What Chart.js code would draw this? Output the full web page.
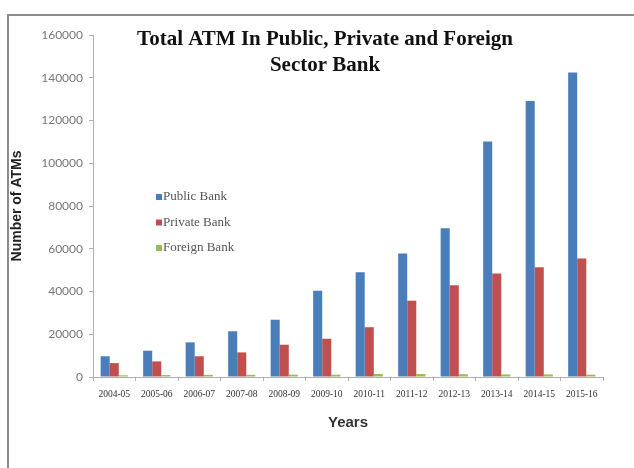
<!DOCTYPE html>
<html>
<head>
<meta charset="utf-8">
<script src="https://cdn.jsdelivr.net/npm/chart.js@4"></script>
<style>
  html, body { margin: 0; padding: 0; background: #fff; }
  #wrap { width: 634px; height: 468px; position: relative; }
</style>
</head>
<body>
<div id="wrap"><canvas id="atmChart"></canvas></div>
<script>
// Data
const years = ['2004-05', '2005-06', '2006-07', '2007-08', '2008-09', '2009-10',
               '2010-11', '2011-12', '2012-13', '2013-14', '2014-15', '2015-16'];
const publicBank = [9700, 12300, 16200, 21400, 26800, 40400, 49000, 57800, 69600, 110200, 129100, 142400];
const privateBank = [6500, 7300, 9700, 11500, 15100, 17900, 23300, 35700, 42900, 48400, 51400, 55400];
const foreignBank = [800, 900, 1000, 1000, 1100, 1100, 1400, 1400, 1300, 1200, 1200, 1100];
const yTicks = [0, 20000, 40000, 60000, 80000, 100000, 120000, 140000, 160000];
const titleLines = ['Total ATM In Public, Private and Foreign', 'Sector Bank'];

// Frame, title and legend drawn on the canvas
const decorations = {
    id: 'decorations',
    beforeDraw(chart) {
        const ctx = chart.ctx;
        ctx.save();
        ctx.strokeStyle = '#8c8c8c';
        ctx.lineWidth = 2;
        ctx.beginPath();
        ctx.moveTo(8, 468);
        ctx.lineTo(8, 15);
        ctx.lineTo(634, 15);
        ctx.stroke();
        ctx.restore();
    },
    afterDraw(chart) {
        const ctx = chart.ctx;
        const area = chart.chartArea;
        ctx.save();
        // title
        ctx.fillStyle = '#111';
        ctx.font = 'bold 21px "Liberation Serif", "Times New Roman", serif';
        ctx.textAlign = 'center';
        ctx.textBaseline = 'alphabetic';
        ctx.fillText(titleLines[0], 325, 45);
        ctx.fillText(titleLines[1], 325, 71);
        // legend
        ctx.textAlign = 'left';
        ctx.textBaseline = 'middle';
        ctx.font = '13px "Liberation Serif", "Times New Roman", serif';
        chart.data.datasets.forEach((ds, i) => {
            const y = 197 + i * 25.5;
            ctx.fillStyle = ds.backgroundColor;
            ctx.fillRect(area.left + 63, y - 3, 6, 6);
            ctx.fillStyle = '#555';
            ctx.fillText(ds.label, area.left + 70, y);
        });
        ctx.restore();
    }
};

const ctx = document.getElementById('atmChart').getContext('2d');
new Chart(ctx, {
    type: 'bar',
    data: {
        labels: years,
        datasets: [
            { label: 'Public Bank', data: publicBank, backgroundColor: '#4a7ebb' },
            { label: 'Private Bank', data: privateBank, backgroundColor: '#c0504d' },
            { label: 'Foreign Bank', data: foreignBank, backgroundColor: '#9bbb59' }
        ]
    },
    options: {
        responsive: true,
        maintainAspectRatio: false,
        animation: false,
        layout: { padding: { left: 8, right: 31, top: 35, bottom: 33 } },
        plugins: {
            legend: { display: false },
            title: { display: false },
            tooltip: { enabled: false }
        },
        datasets: {
            bar: { categoryPercentage: 0.64, barPercentage: 1.0 }
        },
        scales: {
            x: {
                grid: { offset: true, drawOnChartArea: false, tickLength: 4, color: '#b0b0b0' },
                border: { color: '#b0b0b0' },
                ticks: {
                    padding: 8,
                    maxRotation: 0,
                    autoSkip: false,
                    color: '#333',
                    font: { family: '"Liberation Serif", "Times New Roman", serif', size: 9.5 }
                },
                title: {
                    display: true,
                    text: 'Years',
                    color: '#333',
                    padding: { top: 4, bottom: 3 },
                    font: { family: '"Liberation Sans", Arial, sans-serif', size: 15, weight: 'bold' }
                },
                afterFit(scale) { scale.height = 468 - 377 - 33; }
            },
            y: {
                min: 0,
                max: 160000,
                afterBuildTicks(scale) { scale.ticks = yTicks.map(v => ({ value: v })); },
                grid: { drawOnChartArea: false, tickLength: 4, color: '#b0b0b0' },
                border: { color: '#b0b0b0' },
                ticks: {
                    padding: 6,
                    color: '#777',
                    callback: v => String(v),
                    font: { family: 'Lato, "Open Sans", sans-serif', size: 12 }
                },
                title: {
                    display: true,
                    text: 'Number of ATMs',
                    color: '#222',
                    padding: { top: 1, bottom: 0 },
                    font: { family: '"Liberation Sans", Arial, sans-serif', size: 14, weight: 'bold' }
                },
                afterFit(scale) { scale.width = 93 - 8; }
            }
        }
    },
    plugins: [decorations]
});
</script>
</body>
</html>
